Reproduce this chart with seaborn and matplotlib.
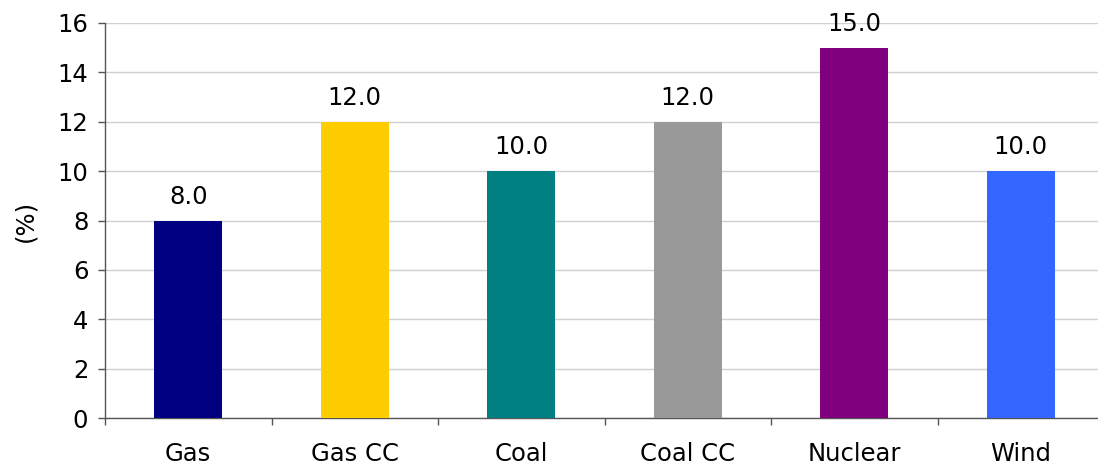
import matplotlib
matplotlib.use("Agg")
import matplotlib.pyplot as plt
import seaborn as sns
import pandas as pd
from matplotlib.ticker import MultipleLocator, FixedLocator

# Data
technologies = ["Gas", "Gas CC", "Coal", "Coal CC", "Nuclear", "Wind"]
rates = [8.0, 12.0, 10.0, 12.0, 15.0, 10.0]
bar_colors = ["#000080", "#FFCC00", "#008080", "#999999", "#800080", "#3366FF"]

df = pd.DataFrame({"technology": technologies, "rate": rates})

sns.set_style("white")
plt.rcParams["font.family"] = ["DejaVu Sans"]
plt.rcParams["text.color"] = "black"
plt.rcParams["axes.labelcolor"] = "black"
plt.rcParams["xtick.labelcolor"] = "black"
plt.rcParams["ytick.labelcolor"] = "black"

fig = plt.figure(figsize=(10.98, 4.68), dpi=100)
W, H = 1098, 468
ax = fig.add_axes([105 / W, 1 - 418 / H, (1104 - 105) / W, (418 - 23) / H])

sns.barplot(data=df, x="technology", y="rate", hue="technology",
            palette=bar_colors, width=0.41, legend=False, ax=ax,
            saturation=1, linewidth=0, zorder=3)

ax.set_xlim(-0.5, 5.5)
ax.set_ylim(0, 16)
ax.yaxis.set_major_locator(MultipleLocator(2))
ax.grid(axis="y", color="#D0D0D0", linewidth=1.0, zorder=0)
ax.set_axisbelow(True)

for side in ["top", "right"]:
    ax.spines[side].set_visible(False)
for side in ["left", "bottom"]:
    ax.spines[side].set_color("#555555")
    ax.spines[side].set_linewidth(1.0)

# Category separators as ticks on the x axis
ax.xaxis.set_minor_locator(FixedLocator([i - 0.5 for i in range(len(technologies) + 1)]))
ax.tick_params(axis="x", which="major", length=0, pad=17, labelsize=17.5)
ax.tick_params(axis="x", which="minor", length=5, width=1, color="#555555", direction="out", bottom=True)
ax.tick_params(axis="y", which="major", length=5, width=1, color="#555555", direction="out",
               left=True, pad=7, labelsize=17.5)

ax.set_xlabel("")
ax.set_ylabel("(%)", fontsize=17.5)
ax.yaxis.set_label_coords(-0.068, 0.5)

for container in ax.containers:
    ax.bar_label(container, fmt="%.1f", padding=8.5, fontsize=17.5, color="black")

fig.savefig("out.png", dpi=100)
